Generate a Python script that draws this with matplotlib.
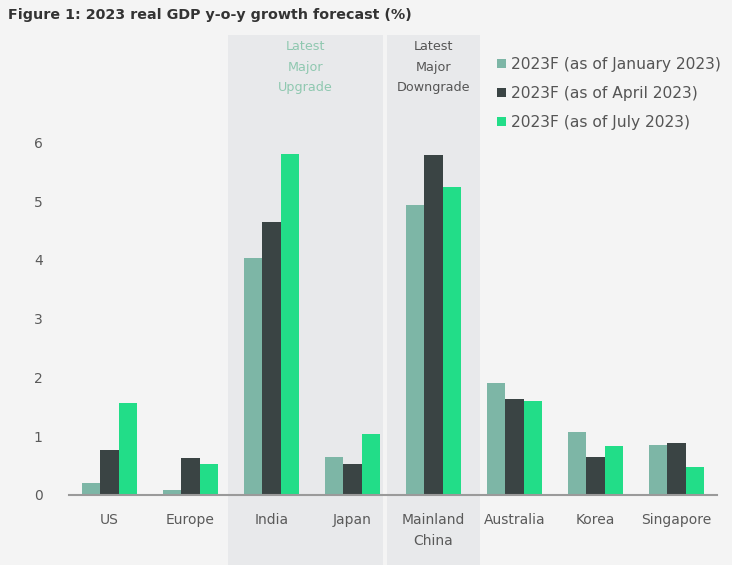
import matplotlib
matplotlib.use("Agg")
import matplotlib.pyplot as plt
import numpy as np
from matplotlib.patches import Rectangle
from matplotlib.transforms import blended_transform_factory

categories = ["US", "Europe", "India", "Japan", "Mainland\nChina", "Australia", "Korea", "Singapore"]
series_names = ["2023F (as of January 2023)", "2023F (as of April 2023)", "2023F (as of July 2023)"]
jan = [0.20, 0.08, 4.03, 0.65, 4.93, 1.90, 1.07, 0.85]
apr = [0.77, 0.63, 4.64, 0.53, 5.78, 1.63, 0.65, 0.88]
jul = [1.56, 0.53, 5.80, 1.04, 5.24, 1.60, 0.83, 0.47]
yticks = [0, 1, 2, 3, 4, 5, 6]
title = "Figure 1: 2023 real GDP y-o-y growth forecast (%)"

colors = ["#7db6a6", "#3a4444", "#22dd88"]
bg = "#f4f4f4"
shade = "#e8e9eb"

fig = plt.figure(figsize=(7.32, 5.65), dpi=100, facecolor=bg)
ax = fig.add_axes([69/732, 70/565, (717-69)/732, 382/565])
ax.set_facecolor("none")

x = np.arange(len(categories))
w = 0.225
for i, (vals, c, name) in enumerate(zip([jan, apr, jul], colors, series_names)):
    ax.bar(x + (i - 1) * w, vals, width=w, color=c, label=name, zorder=3)

ax.set_xlim(-0.5, 7.5)
ax.set_ylim(0, 6.5)
ax.set_yticks(yticks)
ax.set_xticks(x)
ax.set_xticklabels(categories, fontsize=10, color="#5a5a5a", linespacing=1.65)
ax.tick_params(axis="both", length=0, colors="#5a5a5a", labelsize=10)
ax.tick_params(axis="y", pad=19)
ax.tick_params(axis="x", pad=13)
for s in ["top", "right", "left"]:
    ax.spines[s].set_visible(False)
ax.spines["bottom"].set_color("#9a9a9a")
ax.spines["bottom"].set_linewidth(1.5)
ax.spines["bottom"].set_zorder(4)

# shaded regions spanning to figure bottom
tr = blended_transform_factory(ax.transData, fig.transFigure)
top = (565 - 35) / 565
for x0, x1 in [(1.46, 3.38), (3.42, 4.58)]:
    fig.patches.append(Rectangle((x0, 0), x1 - x0, top, transform=tr,
                                 facecolor=shade, edgecolor="none", zorder=-1))

ax.text(2.42, 1 - 40/565, "Latest\nMajor\nUpgrade", transform=tr, ha="center", va="top",
        fontsize=9.2, color="#8fc8b0", linespacing=1.75)
ax.text(4.0, 1 - 40/565, "Latest\nMajor\nDowngrade", transform=tr, ha="center", va="top",
        fontsize=9.2, color="#555555", linespacing=1.75)

fig.text(8/732, 1 - 15/565, title, fontsize=10.3, fontweight="bold", color="#333333",
         ha="left", va="center")

leg = ax.legend(loc="upper left", bbox_to_anchor=(483/732, 1 - 43/565), bbox_transform=fig.transFigure,
                frameon=False, fontsize=11.2, handlelength=0.55, handleheight=0.55,
                handletextpad=0.33, labelspacing=0.9, labelcolor="#555555")

fig.savefig("out.png", dpi=100, facecolor=bg)
